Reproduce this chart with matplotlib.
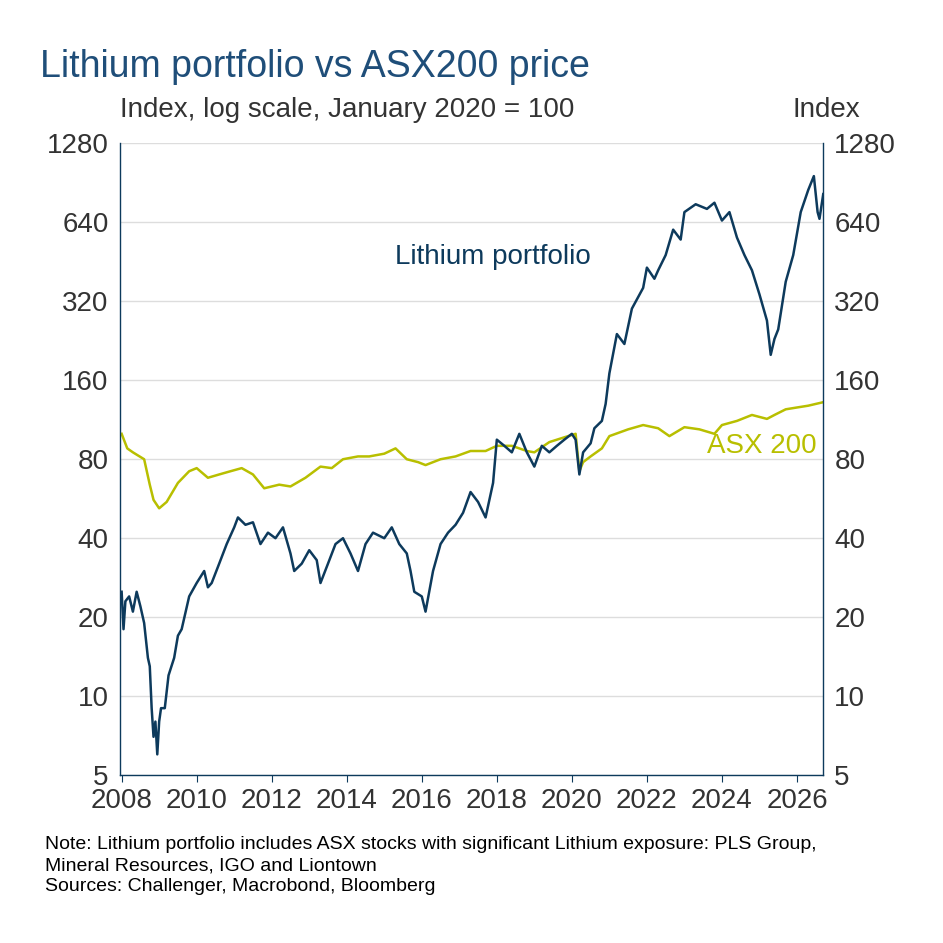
import matplotlib
matplotlib.use("Agg")
import matplotlib.pyplot as plt
from matplotlib.ticker import FixedLocator, NullLocator

plt.rcParams["font.family"] = ["Liberation Sans", "DejaVu Sans"]

NAVY = "#0d3a5c"
LIME = "#b8bf00"

lith_t = [2008.0, 2008.05, 2008.1, 2008.2, 2008.3, 2008.4, 2008.5, 2008.6, 2008.7, 2008.75, 2008.8, 2008.85,
          2008.9, 2008.95, 2009.0, 2009.05, 2009.15, 2009.25, 2009.4, 2009.5, 2009.6, 2009.8, 2010.0, 2010.2,
          2010.3, 2010.4, 2010.6, 2010.8, 2011.0, 2011.1, 2011.3, 2011.5, 2011.7, 2011.9, 2012.1, 2012.3,
          2012.5, 2012.6, 2012.8, 2013.0, 2013.2, 2013.3, 2013.5, 2013.7, 2013.9, 2014.1, 2014.3, 2014.5,
          2014.7, 2015.0, 2015.2, 2015.4, 2015.6, 2015.7, 2015.8, 2016.0, 2016.1, 2016.3, 2016.5, 2016.7,
          2016.9, 2017.1, 2017.3, 2017.5, 2017.7, 2017.9, 2018.0, 2018.2, 2018.4, 2018.6, 2018.8, 2019.0,
          2019.2, 2019.4, 2019.6, 2019.8, 2020.0, 2020.1, 2020.2, 2020.3, 2020.5, 2020.6, 2020.8, 2020.9,
          2021.0, 2021.2, 2021.4, 2021.6, 2021.9, 2022.0, 2022.2, 2022.3, 2022.5, 2022.7, 2022.9, 2023.0,
          2023.3, 2023.6, 2023.8, 2024.0, 2024.2, 2024.4, 2024.6, 2024.8, 2025.0, 2025.2, 2025.3, 2025.4,
          2025.5, 2025.7, 2025.9, 2026.1, 2026.3, 2026.45, 2026.55, 2026.6, 2026.7]
lith_v = [25, 18, 23, 24, 21, 25, 22, 19, 14, 13, 9, 7, 8, 6, 8, 9, 9, 12, 14, 17, 18, 24, 27, 30,
          26, 27, 32, 38, 44, 48, 45, 46, 38, 42, 40, 44, 35, 30, 32, 36, 33, 27, 32, 38, 40, 35, 30, 38,
          42, 40, 44, 38, 35, 30, 25, 24, 21, 30, 38, 42, 45, 50, 60, 55, 48, 65, 95, 90, 85, 100, 85, 75,
          90, 85, 90, 95, 100, 95, 70, 85, 92, 105, 112, 130, 170, 240, 220, 300, 360, 430, 390, 420, 480,
          600, 550, 700, 750, 720, 760, 650, 700, 560, 480, 420, 340, 270, 200, 230, 250, 380, 480, 700,
          850, 960, 700, 660, 820]

asx_t = [2008.0, 2008.15, 2008.3, 2008.6, 2008.75, 2008.85, 2009.0, 2009.2, 2009.5, 2009.8, 2010.0,
         2010.3, 2010.6, 2010.9, 2011.2, 2011.5, 2011.8, 2012.2, 2012.5, 2012.9, 2013.3, 2013.6, 2013.9,
         2014.3, 2014.6, 2015.0, 2015.3, 2015.6, 2015.9, 2016.1, 2016.5, 2016.9, 2017.3, 2017.7, 2018.0,
         2018.4, 2018.8, 2019.0, 2019.4, 2019.8, 2020.1, 2020.2, 2020.3, 2020.5, 2020.8, 2021.0, 2021.5,
         2021.9, 2022.3, 2022.6, 2023.0, 2023.4, 2023.8, 2024.0, 2024.4, 2024.8, 2025.2, 2025.4, 2025.7,
         2026.0, 2026.3, 2026.7]
asx_v = [100, 88, 85, 80, 64, 56, 52, 55, 65, 72, 74, 68, 70, 72, 74, 70, 62, 64, 63, 68, 75, 74, 80,
         82, 82, 84, 88, 80, 78, 76, 80, 82, 86, 86, 90, 90, 86, 85, 93, 97, 100, 72, 78, 82, 88, 98, 104,
         108, 105, 98, 106, 104, 100, 108, 112, 118, 114, 118, 124, 126, 128, 132]

yticks = [5, 10, 20, 40, 80, 160, 320, 640, 1280]
xticks = list(range(2008, 2027, 2))

fig = plt.figure(figsize=(9.43, 9.43), dpi=100)
ax = fig.add_axes([0.127, 0.178, 0.746, 0.67])
ax.plot(asx_t, asx_v, color=LIME, lw=1.8)
ax.plot(lith_t, lith_v, color=NAVY, lw=1.8)
ax.set_yscale("log")
ax.set_ylim(5, 1280)
ax.set_xlim(2007.95, 2026.7)
ax.yaxis.set_major_locator(FixedLocator(yticks))
ax.yaxis.set_minor_locator(NullLocator())
ax.set_yticklabels([str(v) for v in yticks])
ax.set_xticks(xticks)
ax.tick_params(axis="both", labelsize=20, colors="#333333", length=0, pad=8)
ax.tick_params(axis="x", length=5, color=NAVY, direction="out", pad=4)
ax.tick_params(axis="y", labelright=True, right=False)
ax.grid(axis="y", color="#dddddd", lw=1)
for s in ax.spines.values():
    s.set_color(NAVY)
    s.set_linewidth(1)
ax.spines["top"].set_visible(False)

ax.text(2020.5, 470, "Lithium portfolio", color=NAVY, fontsize=20, ha="right", va="center")
ax.text(2023.6, 90, "ASX 200", color=LIME, fontsize=20, ha="left", va="center")

fig.text(0.042, 0.918, "Lithium portfolio vs ASX200 price", color="#1f4e79", fontsize=27)
fig.text(0.127, 0.876, "Index, log scale, January 2020 = 100", color="#333333", fontsize=20)
fig.text(0.912, 0.876, "Index", color="#333333", fontsize=20, ha="right")
fig.text(0.048, 0.055, "Note: Lithium portfolio includes ASX stocks with significant Lithium exposure: PLS Group,\n"
         "Mineral Resources, IGO and Liontown\nSources: Challenger, Macrobond, Bloomberg",
         fontsize=14, color="black", linespacing=1.3)

fig.savefig("out.png", dpi=100)
